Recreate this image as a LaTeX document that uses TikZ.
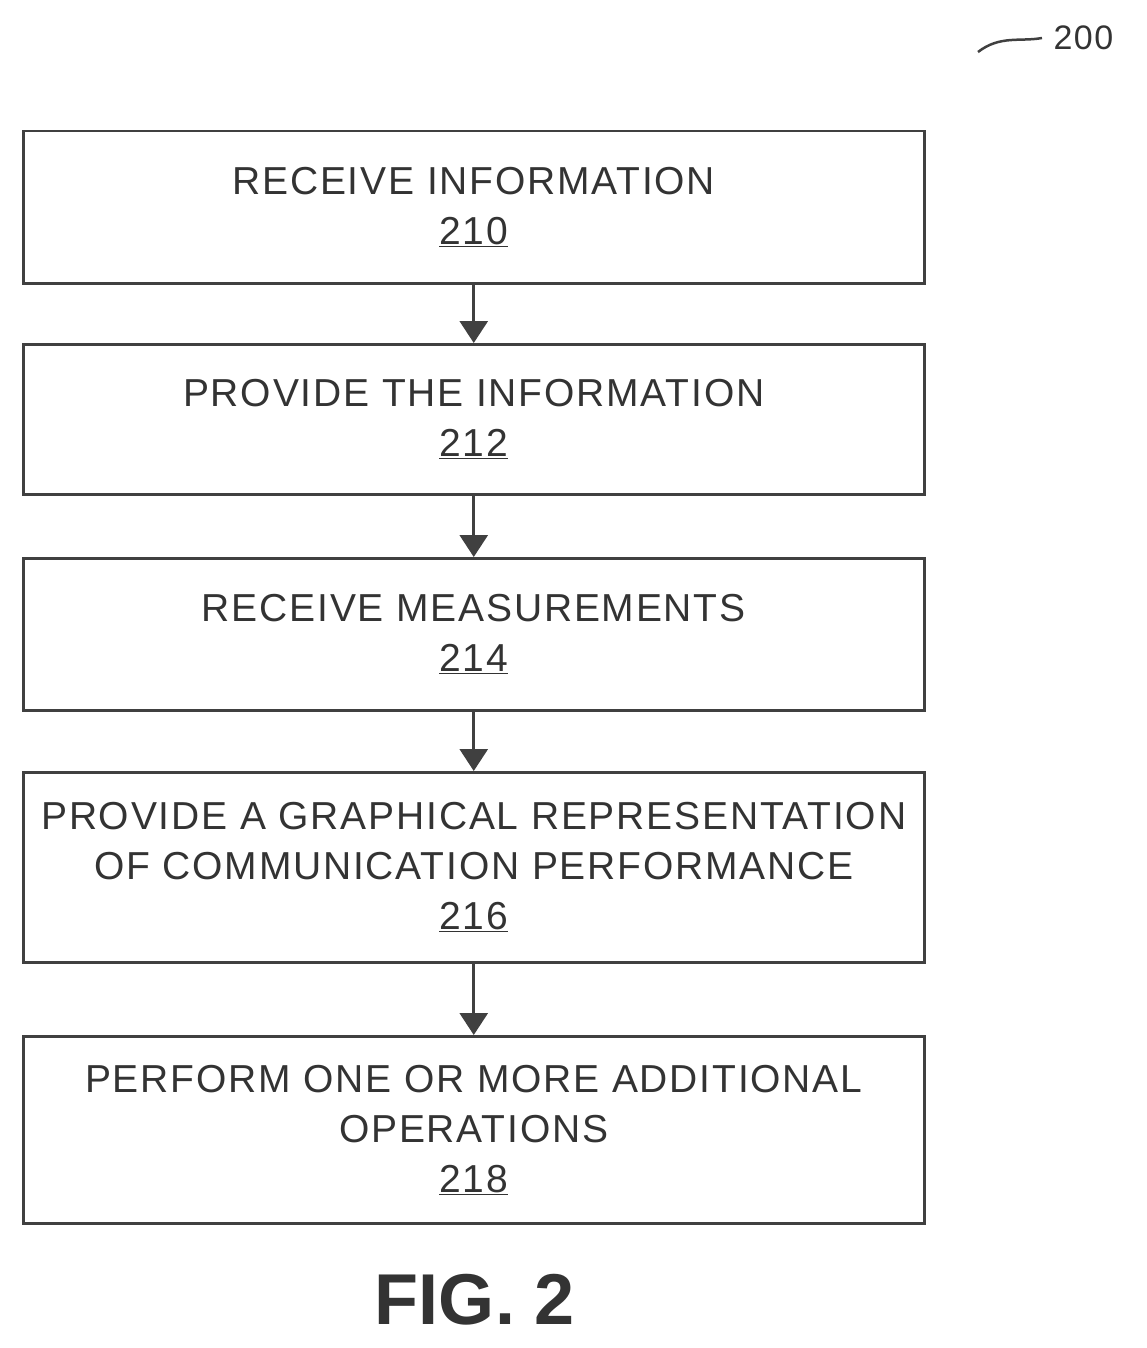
\documentclass[tikz,border=0pt]{standalone}
\usepackage{fontspec}
\setmainfont{Liberation Sans}
\newfontfamily\spaced[LetterSpace=4.6]{Liberation Sans}
\usetikzlibrary{arrows.meta}
\begin{document}
\begin{tikzpicture}[x=1pt,y=-1pt,
  box/.style={draw=black!75,line width=2.5pt,minimum width=901pt,anchor=north west,inner sep=0pt,align=center,font=\spaced\fontsize{39}{50}\selectfont,text=black!80},
  arr/.style={draw=black!75,line width=3pt,-{Triangle[length=22pt,width=28pt]}}]
\useasboundingbox (0,0) rectangle (1147,1348);
\node[box,minimum height=152pt] (b1) at (22,130) {RECEIVE INFORMATION\\\underline{210}};
\node[box,minimum height=150pt] (b2) at (22,343) {PROVIDE THE INFORMATION\\\underline{212}};
\node[box,minimum height=152pt] (b3) at (22,557) {RECEIVE MEASUREMENTS\\\underline{214}};
\node[box,minimum height=190pt] (b4) at (22,771) {PROVIDE A GRAPHICAL REPRESENTATION\\OF COMMUNICATION PERFORMANCE\\\underline{216}};
\node[box,minimum height=187pt] (b5) at (22,1035) {PERFORM ONE OR MORE ADDITIONAL\\OPERATIONS\\\underline{218}};
\draw[arr] (b1.south) -- (b2.north);
\draw[arr] (b2.south) -- (b3.north);
\draw[arr] (b3.south) -- (b4.north);
\draw[arr] (b4.south) -- (b5.north);
\node[font=\fontsize{72}{80}\selectfont\bfseries,text=black!80] (fig) at (475,1300) {FIG. 2};
\node[font=\spaced\fontsize{34}{36}\selectfont,text=black!80,anchor=west] (ref) at (1050,38) {200};
\coordinate (c) at (978,52);
\draw[black!75,line width=2.5pt] (c) .. controls (1000,35) and (1020,42) .. (1042,38);
\end{tikzpicture}
\end{document}
